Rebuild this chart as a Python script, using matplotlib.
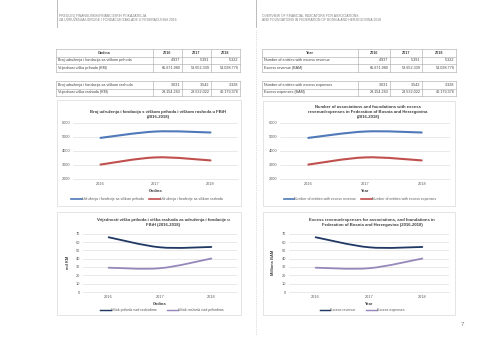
import numpy as np
import matplotlib
matplotlib.use('Agg')
import matplotlib.pyplot as plt
from matplotlib.path import Path
from matplotlib.patches import PathPatch, Rectangle
from matplotlib.lines import Line2D

plt.rcParams['font.family'] = ['Liberation Sans', 'DejaVu Sans']

# data
years = ['2016', '2017', '2018']
count_revenue = [4937, 5391, 5322]
count_expense = [3031, 3542, 3328]
value_revenue = [65671980, 53652339, 54038776]
value_expense = [29154263, 28532022, 40179376]

rows_bs = ['Broj udruženja i fondacija sa viškom prihoda', 'Vrijednost viška prihoda (KM)',
           'Broj udruženja i fondacija sa viškom rashoda', 'Vrijednost viška rashoda (KM)']
rows_en = ['Number of entities with excess revenue', 'Excess revenue (BAM)',
           'Number of entities with excess expenses', 'Excess expenses (BAM)']

legend_top_bs = ['Udruženja i fondacije sa viškom prihoda', 'Udruženja i fondacije sa viškom rashoda']
legend_top_en = ['Number of entities with excess revenue', 'Number of entities with excess expenses']
legend_bot_bs = ['Višak prihoda nad rashodima', 'Višak rashoda nad prihodima']
legend_bot_en = ['Excess revenue', 'Excess expenses']

W, H = 480, 339
fig = plt.figure(figsize=(W / 100, H / 100), dpi=100)
fig.patch.set_facecolor('white')

page = fig.add_axes([0, 0, 1, 1])
page.set_xlim(0, W)
page.set_ylim(H, 0)
page.axis('off')

grey = '#7f7f7f'
tcol = '#404040'

# header
page.plot([57, 57], [0, 27], color='#a0a0a0', lw=0.5)
page.plot([256, 256], [0, 27], color='#a0a0a0', lw=0.5)
page.text(59, 15.7, 'PREGLED FINANSIJSKIH/FINANCIJSKIH POKAZATELJA', fontsize=2.4, color=grey, va='center')
page.text(59, 20.3, 'ZA UDRUŽENJA/UDRUGE I FONDACIJE/ZAKLADE U FEDERACIJI BiH 2018.', fontsize=2.4, color=grey, va='center')
page.text(262, 15.7, 'OVERVIEW OF FINANCIAL INDICATORS FOR ASSOCIATIONS', fontsize=2.4, color=grey, va='center')
page.text(262, 20.3, 'AND FOUNDATIONS IN FEDERATION OF BOSNIA AND HERZEGOVINA 2018', fontsize=2.4, color=grey, va='center')
page.plot([256, 256], [30, 335], color='#c0c0c0', lw=0.5, ls=(0, (1, 1.5)))
page.text(462, 325, '7', fontsize=4.5, color=grey, ha='center', va='center')


def fmt(v):
    return f'{v:,}'.replace(',', '.')


def draw_table(xe, head, labels):
    lc = '#a6a6a6'
    blocks = [(49, [head] + [[labels[0]] + [fmt(v) for v in count_revenue],
                             [labels[1]] + [fmt(v) for v in value_revenue]]),
              (81, [[labels[2]] + [fmt(v) for v in count_expense],
                    [labels[3]] + [fmt(v) for v in value_expense]])]
    for top, rows in blocks:
        rh = 7.6
        ys = [top + i * rh for i in range(len(rows) + 1)]
        for y in ys:
            page.plot([xe[0], xe[-1]], [y, y], color=lc, lw=0.4)
        for x in xe:
            page.plot([x, x], [ys[0], ys[-1]], color=lc, lw=0.4)
        for i, row in enumerate(rows):
            yc = (ys[i] + ys[i + 1]) / 2
            is_head = row is head
            for j, cell in enumerate(row):
                if is_head:
                    page.text((xe[j] + xe[j + 1]) / 2, yc, cell, fontsize=2.7, fontweight='bold',
                              color=tcol, ha='center', va='center')
                elif j == 0:
                    page.text(xe[0] + 1.5, yc, cell, fontsize=2.7, color=tcol, ha='left', va='center')
                else:
                    page.text(xe[j + 1] - 1.5, yc, cell, fontsize=2.7, color=tcol, ha='right', va='center')


draw_table([56, 153, 182, 211, 240], ['Godina'] + years, rows_bs)
draw_table([262, 358, 390, 422, 456], ['Year'] + years, rows_en)

# chart boxes
for (l, t, r, b) in [(57, 100, 241, 206), (263, 101, 455, 206), (57, 212, 241, 315), (263, 212, 455, 315)]:
    page.add_patch(Rectangle((l, t), r - l, b - t, fill=False, ec='#d9d9d9', lw=0.5))


def px_axes(l, t, r, b):
    return fig.add_axes([l / W, 1 - b / H, (r - l) / W, (b - t) / H])


def smooth_path(ys):
    pts = np.column_stack([np.arange(len(ys), dtype=float), np.asarray(ys, dtype=float)])
    n = len(pts)
    verts = [pts[0]]
    codes = [Path.MOVETO]
    for i in range(n - 1):
        p0 = pts[max(i - 1, 0)]
        p1 = pts[i]
        p2 = pts[i + 1]
        p3 = pts[min(i + 2, n - 1)]
        verts += [p1 + (p2 - p0) / 6, p2 - (p3 - p1) / 6, p2]
        codes += [Path.CURVE4] * 3
    return Path(verts, codes)


def chart(box, series, colors, lw, ylim, yticks, title, title_y, xlabel, ylabel, ylabel_x,
          labels, leg_xy, colspace):
    ax = px_axes(*box)
    for s, c in zip(series, colors):
        ax.add_patch(PathPatch(smooth_path(s), fill=False, ec=c, lw=lw, capstyle='round'))
    ax.set_xlim(-0.5, len(years) - 0.5)
    ax.set_ylim(*ylim)
    ax.set_xticks(range(len(years)))
    ax.set_xticklabels(years)
    ax.set_yticks(yticks)
    ax.tick_params(length=0, labelsize=2.8, labelcolor='#595959', pad=2)
    ax.grid(axis='y', color='#d9d9d9', lw=0.4)
    ax.set_axisbelow(True)
    for sp in ax.spines.values():
        sp.set_visible(False)
    ax.spines['bottom'].set_visible(True)
    ax.spines['bottom'].set_color('#d9d9d9')
    ax.spines['bottom'].set_linewidth(0.4)
    cx = (box[0] + box[2]) / 2
    page.text(cx + 3, title_y, title, fontsize=3.1, fontweight='bold', color='#404040',
              ha='center', va='bottom', linespacing=1.35)
    page.text((box[0] + box[2]) / 2, box[3] + 12, xlabel, fontsize=2.9, fontweight='bold',
              color='#404040', ha='center', va='center')
    if ylabel:
        page.text(ylabel_x, (box[1] + box[3]) / 2, ylabel, fontsize=2.9, fontweight='bold',
                  color='#404040', ha='center', va='center', rotation=90)
    handles = [Line2D([], [], color=c, lw=lw * 0.8) for c in colors]
    fig.legend(handles, labels, loc='center', bbox_to_anchor=(leg_xy[0] / W, 1 - leg_xy[1] / H),
               ncol=2, frameon=False, fontsize=2.5, handlelength=3, handletextpad=0.1,
               columnspacing=colspace, borderpad=0, labelcolor='#595959')
    return ax


blue, red = '#4f79b8', '#c0504d'
navy, lav = '#203864', '#9688bb'

chart((73, 123, 238, 179), [count_revenue, count_expense], [blue, red], 1.5,
      (2000, 6000), range(2000, 6001, 1000),
      'Broj udruženja i fondacija s viškom prihoda i viškom rashoda u FBiH\n(2016-2018)', 119,
      'Godina', None, 0, legend_top_bs, (147, 199), 1.5)
chart((280, 123, 450, 179), [count_revenue, count_expense], [blue, red], 1.5,
      (2000, 6000), range(2000, 6001, 1000),
      'Number of associations and foundations with excess\nrevenue/expenses in Federation of Bosnia and Herzegovina\n(2016-2018)',
      119, 'Year', None, 0, legend_top_en, (360, 199), 1.5)

rev_m = [v / 1e6 for v in value_revenue]
exp_m = [v / 1e6 for v in value_expense]
chart((83, 232, 237, 292), [rev_m, exp_m], [navy, lav], 1.3,
      (0, 72), range(0, 71, 10),
      'Vrijednosti viška prihoda i viška rashoda za udruženja i fondacije u\nFBiH (2016-2018)', 227,
      'Godina', 'mil KM', 68, legend_bot_bs, (162, 310), 3)
chart((289, 232, 449, 292), [rev_m, exp_m], [navy, lav], 1.3,
      (0, 72), range(0, 71, 10),
      'Excess revenue/expenses for associations, and foundations in\nFederation of Bosnia and Herzegovina (2016-2018)', 227,
      'Year', 'Millions BAM', 273, legend_bot_en, (362, 310), 3)

plt.savefig('out.png', dpi=100)
